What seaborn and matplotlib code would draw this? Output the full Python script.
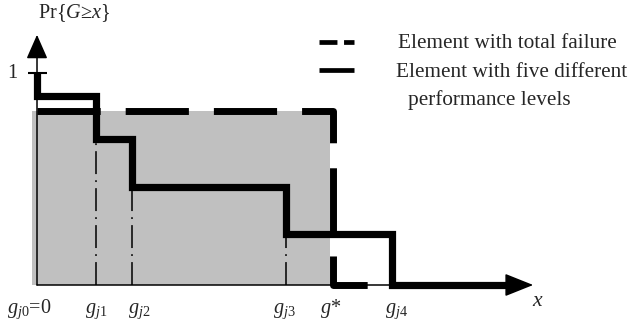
import numpy as np
import pandas as pd
import matplotlib
matplotlib.use("Agg")
import matplotlib.pyplot as plt
import seaborn as sns

# ---------------- data ----------------
g_values = [0.0, 2.0, 3.2, 8.4, 12.0]          # g_j0 .. g_j4
step_probs = [0.89, 0.69, 0.46, 0.24, 0.0]     # Pr{G>=x} on [g_jk, g_j(k+1))
start_prob = 1.0
g_star = 10.0
p_star = 0.82
x_end = 15.9
tick_labels = [r"$g_{j\mathrm{0}}$=0", r"$g_{j\mathrm{1}}$", r"$g_{j\mathrm{2}}$",
               r"$g_{j\mathrm{3}}$", r"$g$*", r"$g_{j\mathrm{4}}$"]
tick_values = [g_values[0], g_values[1], g_values[2], g_values[3], g_star, g_values[4]]
legend_labels = ["Element with total failure",
                 "Element with five different\n  performance levels"]

# ---------------- style ----------------
sns.set_theme(style="white")
plt.rcParams["font.family"] = ["Liberation Serif", "DejaVu Serif"]
plt.rcParams["mathtext.fontset"] = "custom"
plt.rcParams["mathtext.rm"] = "Liberation Serif"
plt.rcParams["mathtext.it"] = "Liberation Serif:italic"
plt.rcParams["mathtext.bf"] = "Liberation Serif:bold"

fig = plt.figure(figsize=(6.3, 3.22), dpi=100)
ax = fig.add_axes([0, 0, 1, 1])
ax.set_xlim(-1.25, 20.03)
ax.set_ylim(-0.1745, 1.344)
ax.axis("off")

# gray area under the total-failure element
ax.fill_between([g_values[0] - 0.17, g_star - 0.1], 0, p_star, color="#c0c0c0", lw=0, zorder=1)

# dash-dot guides
ax.vlines(g_values[1:4], 0, step_probs[1:4], colors="black", lw=1.1,
          linestyles=[(0, (15, 4, 1.2, 4))], zorder=2)

# axes with arrows
ax.annotate("", xy=(0, 1.18), xytext=(0, 0),
            arrowprops=dict(arrowstyle="-|>,head_length=0.75,head_width=0.33",
                            mutation_scale=20, lw=1.1, color="black", shrinkA=0, shrinkB=0),
            zorder=3)
ax.annotate("", xy=(16.76, 0), xytext=(0, 0),
            arrowprops=dict(arrowstyle="-|>,head_length=0.9,head_width=0.36",
                            mutation_scale=20, lw=1.1, color="black", shrinkA=0, shrinkB=0),
            zorder=3)
ax.hlines(1.0, -0.3, 0.34, colors="black", lw=1.5, zorder=3)

# total failure element (dashed)
dash_df = pd.DataFrame({"x": [g_values[0], g_star, x_end], "y": [p_star, 0.0, 0.0]})
sns.lineplot(data=dash_df, x="x", y="y", estimator=None, sort=False, color="black",
             lw=5.0, drawstyle="steps-post", ax=ax, zorder=4)
dl = ax.lines[-1]
dl.set_dashes((9.1, 3.6))
dl.set_dash_capstyle("butt")
dl.set_solid_joinstyle("miter")

# five-level element (solid steps)
solid_df = pd.DataFrame({"x": [g_values[0]] + g_values + [x_end],
                         "y": [start_prob] + step_probs + [0.0]})
sns.lineplot(data=solid_df, x="x", y="y", estimator=None, sort=False, color="black",
             lw=5.2, drawstyle="steps-post", ax=ax, zorder=5)
sl = ax.lines[-1]
sl.set_solid_capstyle("butt")
sl.set_solid_joinstyle("miter")

# texts
fs = 14.6
ax.text(0.03, 1.26, r"Pr{$G$≥$x$}", fontsize=fs, ha="left", va="baseline")
ax.text(-0.68, 0.976, "1", fontsize=fs, ha="right", va="baseline")
ax.text(16.93, -0.08, r"$x$", fontsize=fs + 1, ha="center", va="center")
label_offsets = [-1.01, -0.38, -0.13, -0.43, -0.44, -0.24]
for lab, v, off in zip(tick_labels, tick_values, label_offsets):
    ax.text(v + off, -0.132, lab, fontsize=fs, ha="left", va="baseline")

ax.set_xlabel("")
ax.set_ylabel("")

# legend (manual)
lfs = 15.3
tr = ax.transAxes
ax.plot([0.506, 0.562], [0.870, 0.870], transform=tr, color="black", lw=3.4,
        dashes=(3.8, 1.4), dash_capstyle="butt")
ax.plot([0.506, 0.562], [0.783, 0.783], transform=tr, color="black", lw=3.4,
        solid_capstyle="butt")
ax.text(0.632, 0.866, legend_labels[0], transform=tr, fontsize=lfs, ha="left", va="center")
ax.text(0.629, 0.776, legend_labels[1].split("\n")[0], transform=tr, fontsize=lfs,
        ha="left", va="center")
ax.text(0.648, 0.689, legend_labels[1].split("\n")[1].strip(), transform=tr, fontsize=lfs,
        ha="left", va="center")

fig.savefig("out.png", dpi=100)
